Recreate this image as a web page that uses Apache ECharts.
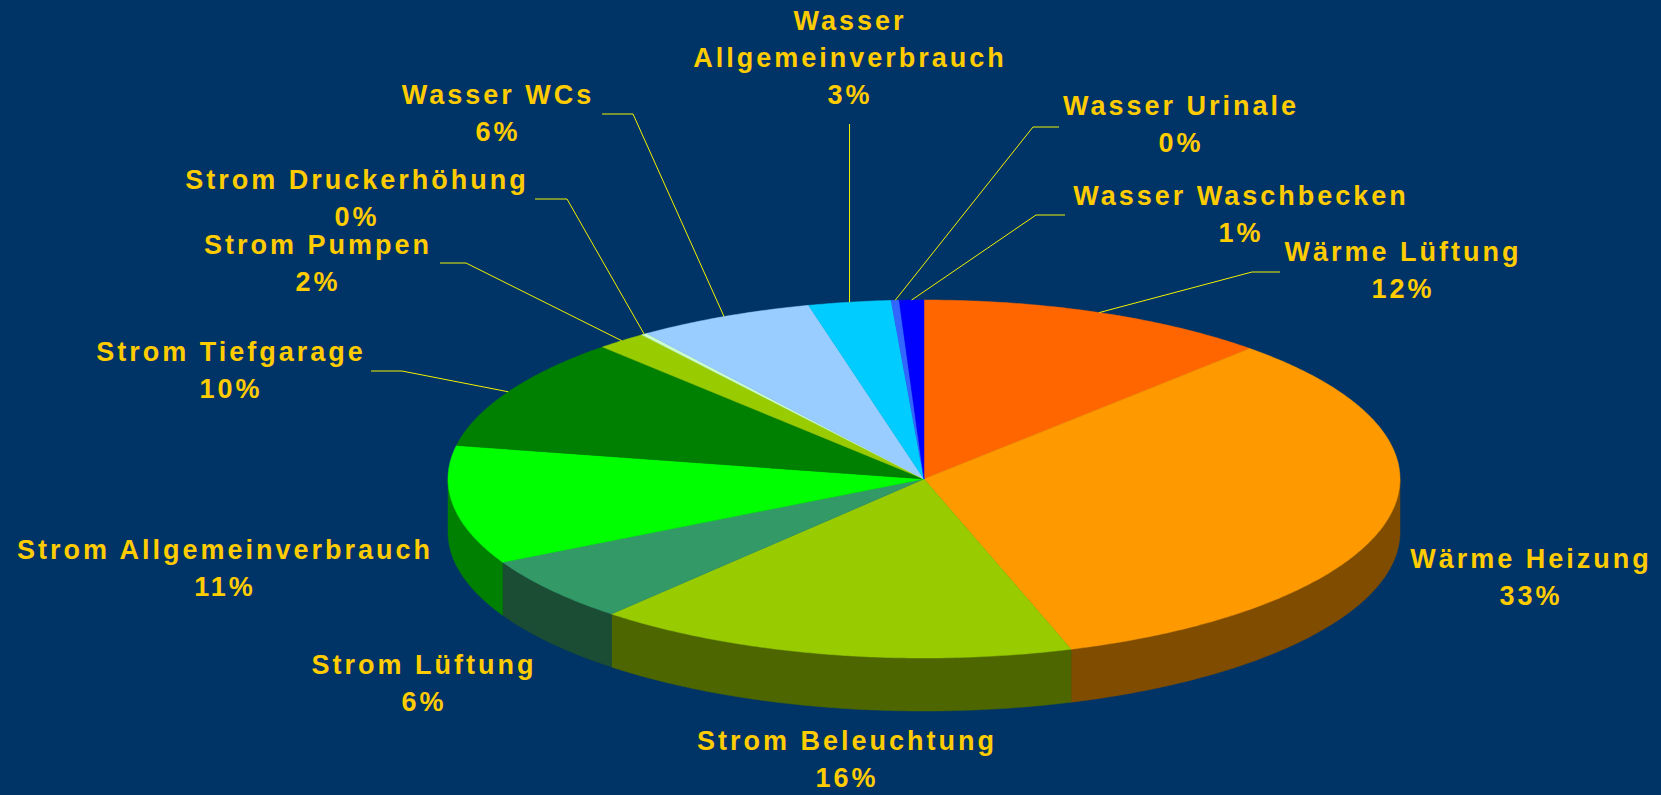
<!DOCTYPE html>
<html>
<head>
<meta charset="utf-8">
<script src="https://cdn.jsdelivr.net/npm/echarts@6/dist/echarts.min.js"></script>
<style>
html, body { margin: 0; padding: 0; background: #003366; }
#main { width: 1661px; height: 795px; }
#main text { letter-spacing: 3px; }
</style>
</head>
<body>
<div id="main"></div>
<script>
// Energie- und Wasserverbrauch, Anteile in %
var categories = ['Wärme Lüftung', 'Wärme Heizung', 'Strom Beleuchtung', 'Strom Lüftung',
    'Strom Allgemeinverbrauch', 'Strom Tiefgarage', 'Strom Pumpen', 'Strom Druckerhöhung',
    'Wasser WCs', 'Wasser Allgemeinverbrauch', 'Wasser Urinale', 'Wasser Waschbecken'];
var values = [12.0, 33.0, 16.4, 5.9, 10.7, 10.2, 1.7, 0.2, 6.0, 2.8, 0.27, 0.83];

var colors = ['#FF6600', '#FF9900', '#99CC00', '#339966', '#00FF00', '#008000',
    '#99CC00', '#CCFFCC', '#99CCFF', '#00CCFF', '#3366FF', '#0000FF'];

// Lage der Beschriftungen (Mitte x, erste Zeile y) und Knick der Führungslinie
var labelLayout = [
    { x: 1403, y: 252, line: [[1252, 272], [1280, 272]] },
    { x: 1531, y: 559 },
    { x: 847, y: 741 },
    { x: 424, y: 665 },
    { x: 225, y: 550 },
    { x: 231, y: 352, line: [[402, 371], [371, 371]] },
    { x: 318, y: 245, line: [[466, 263], [440, 263]] },
    { x: 357, y: 180, line: [[567, 199], [535, 199]] },
    { x: 498, y: 95, line: [[633, 114], [602, 114]] },
    { x: 850, y: 21, wrap: true, vertical: 124 },
    { x: 1181, y: 106, line: [[1033, 127], [1059, 127]] },
    { x: 1241, y: 196, line: [[1036, 215], [1065, 215]] }
];

var cx = 924, cy = 479, rx = 476, ry = 179, depth = 53;
var lineGap = 37;
var labelFont = 'bold 27px "Liberation Sans", Arial, sans-serif';
var labelColor = '#FFCC00';

var total = values.reduce(function (a, b) { return a + b; }, 0);
var starts = [];
var acc = 0;
values.forEach(function (v) { starts.push(acc); acc += v; });

function darken(hex) {
    var n = parseInt(hex.slice(1), 16);
    var r = (n >> 16) & 255, g = (n >> 8) & 255, b = n & 255;
    return 'rgb(' + Math.round(r / 2) + ',' + Math.round(g / 2) + ',' + Math.round(b / 2) + ')';
}
function ptAt(t, dy) {
    return [cx + rx * Math.sin(t), cy - ry * Math.cos(t) + (dy || 0)];
}
function arc(t0, t1, dy) {
    var pts = [];
    var n = Math.max(2, Math.ceil((t1 - t0) / 0.01));
    for (var i = 0; i <= n; i++) {
        pts.push(ptAt(t0 + (t1 - t0) * i / n, dy));
    }
    return pts;
}

var myChart = echarts.init(document.getElementById('main'), null, { renderer: 'svg' });

function renderItem(params, api) {
    var idx = params.dataIndex;
    var v = api.value(0);
    var t0 = starts[idx] / total * Math.PI * 2;
    var t1 = (starts[idx] + v) / total * Math.PI * 2;
    var color = colors[idx];
    var children = [];

    // Seitenwand (nur vorderer Halbkreis sichtbar)
    var s0 = Math.max(t0, Math.PI / 2), s1 = Math.min(t1, Math.PI * 1.5);
    if (s1 > s0) {
        var side = arc(s0, s1, 0).concat(arc(s0, s1, depth).reverse());
        var dark = darken(color);
        children.push({
            type: 'polygon', z2: 1,
            shape: { points: side },
            style: { fill: dark, stroke: dark, lineWidth: 0.5 }
        });
    }

    // Oberseite
    var top = [[cx, cy]].concat(arc(t0, t1, 0));
    children.push({
        type: 'polygon', z2: 2,
        shape: { points: top },
        style: { fill: color, stroke: color, lineWidth: 0.5 }
    });

    // Beschriftung
    var lay = labelLayout[idx];
    var pct = Math.round(v / total * 100) + '%';
    var lines = lay.wrap ? categories[idx].split(' ').concat([pct]) : [categories[idx], pct];
    lines.forEach(function (txt, k) {
        children.push({
            type: 'text', z2: 4,
            style: {
                text: txt, x: lay.x, y: lay.y + k * lineGap,
                fill: labelColor, font: labelFont,
                align: 'center', verticalAlign: 'middle'
            }
        });
    });

    // Führungslinie
    var mid = ptAt((t0 + t1) / 2, 0);
    var pts = null;
    if (lay.line) pts = [mid].concat(lay.line);
    if (lay.vertical) pts = [mid, [mid[0], lay.vertical]];
    if (pts) {
        children.push({
            type: 'polyline', z2: 3,
            shape: { points: pts },
            style: { fill: null, stroke: '#F2F200', lineWidth: 1 }
        });
    }

    return { type: 'group', children: children };
}

var option = {
    backgroundColor: '#003366',
    animation: false,
    series: [{
        type: 'custom',
        coordinateSystem: 'none',
        renderItem: renderItem,
        data: values.map(function (v, i) { return { name: categories[i], value: [v] }; })
    }]
};
myChart.setOption(option);
</script>
</body>
</html>
